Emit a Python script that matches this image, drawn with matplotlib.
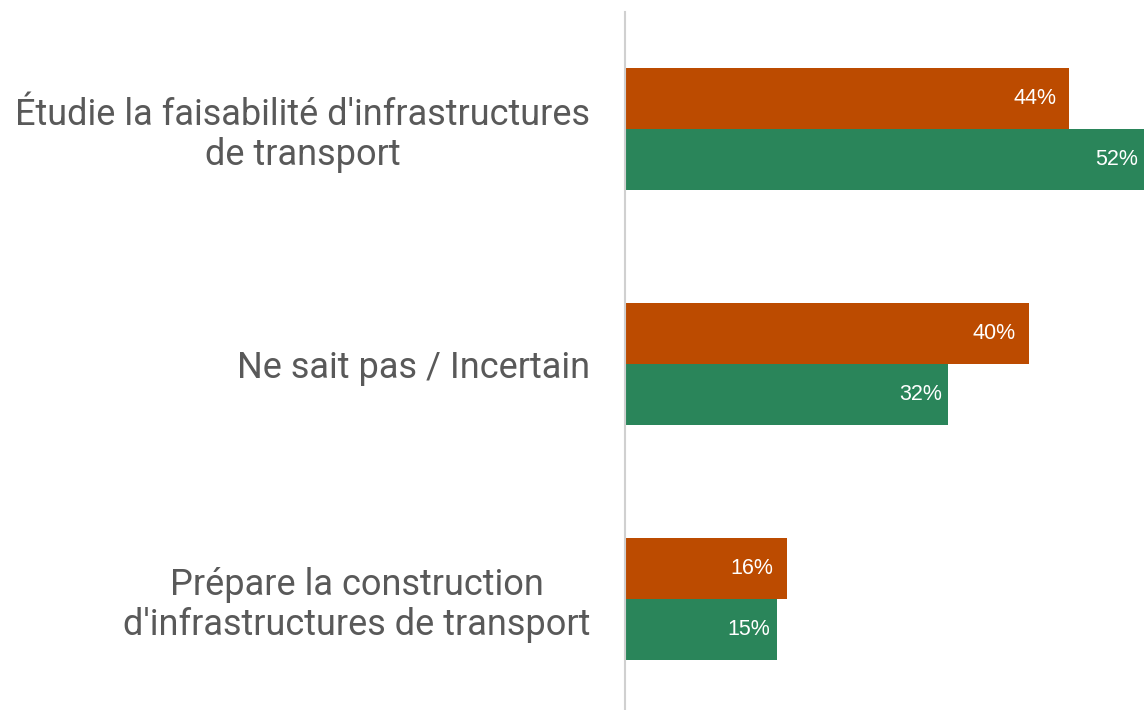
import matplotlib
matplotlib.use("Agg")
import matplotlib.pyplot as plt

categories = ["Étudie la faisabilité d'infrastructures\nde transport",
              "Ne sait pas / Incertain",
              "Prépare la construction\nd'infrastructures de transport"]
series_a = [44, 40, 16]   # orange
series_b = [52, 32, 15]   # green
color_a = "#BC4B00"
color_b = "#2A855A"

W, H = 1144, 710
fig = plt.figure(figsize=(W/100, H/100), dpi=100)
ax = fig.add_axes([625/W, 0, 1 - 625/W, (710-12)/H])

bh = 0.26
pos = list(range(len(categories)))
ax.barh([p - bh/2 for p in pos], series_a, height=bh, color=color_a, edgecolor="none")
ax.barh([p + bh/2 for p in pos], series_b, height=bh, color=color_b, edgecolor="none")

for p, a, b in zip(pos, series_a, series_b):
    ax.text(min(a, 51.4) - 1.3, p - bh/2, f"{a}%", color="white", ha="right", va="center",
            fontsize=15.5, family="Liberation Sans")
    ax.text(min(b, 51.4) - 0.6, p + bh/2, f"{b}%", color="white", ha="right", va="center",
            fontsize=15.5, family="Liberation Sans")

ax.set_xlim(0, 519/10.1)
ax.set_ylim(2.472, -0.498)
ax.set_yticks(pos)
ax.set_yticklabels(categories, fontsize=26, color="#595959", family="Roboto",
                   ha="right", multialignment="center", linespacing=1.15)
ax.tick_params(axis="y", length=0, pad=25)
ax.set_xticks([])
for s in ["top", "right", "bottom"]:
    ax.spines[s].set_visible(False)
ax.spines["left"].set_color("#D0D0D0")
ax.spines["left"].set_linewidth(1.5)

fig.savefig("out.png", dpi=100)
